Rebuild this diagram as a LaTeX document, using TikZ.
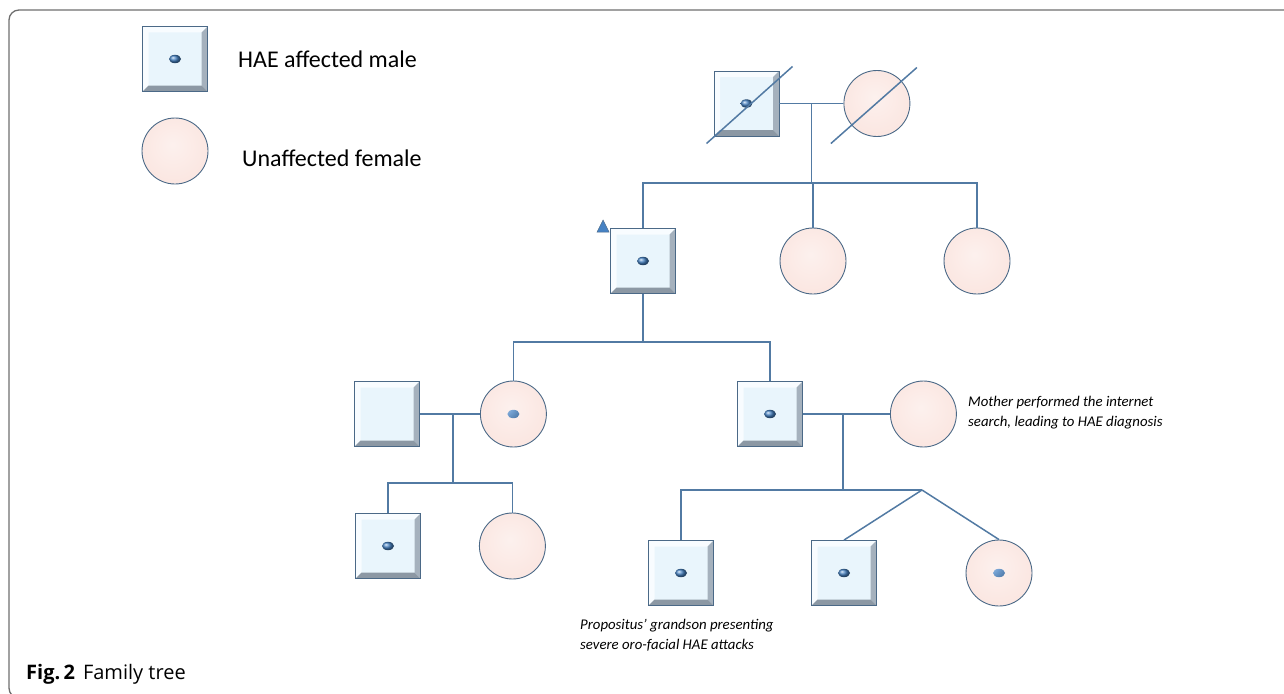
\documentclass[tikz,border=0pt]{standalone}
\usepackage{fontspec}
\setmainfont{Carlito}
\newfontfamily\capfont{Open Sans}
\usetikzlibrary{positioning, calc}

\definecolor{linkblue}{RGB}{82,122,163}
\definecolor{edgeblue}{RGB}{75,105,135}
\definecolor{malefill}{RGB}{233,245,252}
\definecolor{bevellight}{RGB}{248,252,255}
\definecolor{bevelside}{RGB}{165,177,189}
\definecolor{beveldark}{RGB}{140,152,164}
\definecolor{femalefill}{RGB}{251,231,226}
\definecolor{femalerim}{RGB}{195,180,180}
\definecolor{dotblue}{RGB}{70,130,195}
\definecolor{framegray}{RGB}{110,110,110}

\pgfdeclareradialshading{femaleshade}{\pgfpoint{-2bp}{5bp}}{color(0bp)=(femalefill!60!white); color(25bp)=(femalefill); color(41bp)=(femalefill); color(47bp)=(femalerim); color(53bp)=(femalerim!65!black)}

% bevel of the square symbols
\newcommand{\bevelsq}{%
  \fill[bevellight] (path picture bounding box.north west) -- (path picture bounding box.north east)
    -- ([shift={(-6pt,-6pt)}]path picture bounding box.north east)
    -- ([shift={(6pt,-6pt)}]path picture bounding box.north west)
    -- ([shift={(6pt,6pt)}]path picture bounding box.south west)
    -- (path picture bounding box.south west) -- cycle;
  \fill[bevelside] (path picture bounding box.south east) -- (path picture bounding box.north east)
    -- ([shift={(-6pt,-6pt)}]path picture bounding box.north east)
    -- ([shift={(-6pt,6pt)}]path picture bounding box.south east) -- cycle;
  \fill[beveldark] (path picture bounding box.south west) -- (path picture bounding box.south east)
    -- ([shift={(-6pt,6pt)}]path picture bounding box.south east)
    -- ([shift={(6pt,6pt)}]path picture bounding box.south west) -- cycle;}
% dot of the HAE carriers
\newcommand{\affdot}{%
  \shade[ball color=dotblue] (path picture bounding box.center) ellipse [x radius=6pt, y radius=4.2pt];}

\begin{document}
\begin{tikzpicture}[x=1pt, y=-1pt,
    node distance=60pt,
    male/.style={rectangle, draw=edgeblue, line width=0.9pt, fill=malefill, minimum size=65pt, inner sep=0pt, path picture={\bevelsq}},
    malehae/.style={male, path picture={\bevelsq\affdot}},
    female/.style={circle, draw=edgeblue, line width=0.9pt, shading=femaleshade, minimum size=66pt, inner sep=0pt},
    femalehae/.style={female, path picture={\affdot}},
    tie/.style={draw=linkblue, line width=1.5pt},
    legend/.style={font=\fontsize{24}{28}\selectfont, inner sep=0pt},
    note/.style={font=\fontsize{14.8}{20}\selectfont\itshape, align=left, inner sep=0pt}
]
\useasboundingbox (0,0) rectangle (1284,693);
\draw[framegray, line width=1.3pt, rounded corners=10pt] (1300,10) -- (9,10) -- (9,698) -- (40,698);

% legend
\node[malehae] (lm) at (175,59) {};
\node[legend, right=30pt of lm] (lmt) {HAE affected male};
\node[female] (lf) at (175,151) {};
\node[legend, anchor=west] (lft) at (242,158) {Unaffected female};

% generation I
\node[malehae] (gf) at (746.5,103.5) {};
\node[female, right=64pt of gf] (gm) {};
\draw[tie] ([shift={(-40,40)}]gf.center) -- ([shift={(46,-37)}]gf.center);
\draw[tie] ([shift={(-46,40)}]gm.center) -- ([shift={(40,-36)}]gm.center);

% generation II
\node[malehae] (p) at (643,261) {};
\node[female] (a1) at (813,261) {};
\node[female] (a2) at (977,261) {};
\filldraw[fill=dotblue, draw=edgeblue, line width=0.5pt] ([shift={(-13,4)}]p.north west) -- ([shift={(-1,4)}]p.north west) -- ([shift={(-7,-8)}]p.north west) -- cycle;

% generation III
\node[male] (dh) at (387,414) {};
\node[femalehae, right=60pt of dh] (d) {};
\node[malehae] (s) at (770,414) {};
\node[female, right=87pt of s] (w) {};
\node[note, anchor=west] (mnote) at (968,413) {Mother performed the internet\\search, leading to HAE diagnosis};

% generation IV
\node[malehae] (c1) at (388,546) {};
\node[female, right=58pt of c1] (c2) {};
\node[malehae] (c3) at (681,573) {};
\node[malehae] (c4) at (844,573) {};
\node[femalehae] (c5) at (999,573) {};
\node[note, anchor=north west] (gnote) at (580,619) {Propositus’ grandson presenting\\severe oro-facial HAE attacks};

% connectors
\coordinate (m1) at ($(gf)!0.5!(gm)$);
\coordinate (sib1) at (812,183);
\draw[tie] (gf) -- (gm);
\draw[tie] (m1) -- (m1 |- sib1);
\draw[tie] (p) |- (sib1) -| (a2);
\draw[tie] (a1) -- (a1 |- sib1);

\coordinate (sib2) at (641,342);
\draw[tie] (p) -- (p |- sib2);
\draw[tie] (d) |- (sib2) -| (s);

\coordinate (m2) at (453,414);
\coordinate (sib3) at (453,483);
\draw[tie] (dh) -- (d);
\draw[tie] (m2) -- (sib3);
\draw[tie] (c1) |- (sib3) -| (c2);

\coordinate (m3) at (843,414);
\coordinate (twin) at (922,490);
\draw[tie] (s) -- (w);
\draw[tie] (m3) -- (m3 |- twin);
\draw[tie] (c3) |- (twin);
\draw[tie] (twin) -- (c4.north);
\draw[tie] (twin) -- (c5.north);

% caption
\node[anchor=west, inner sep=0pt, font=\capfont\fontsize{20}{24}\selectfont] (cap) at (26,674) {\textbf{Fig.\,2}\hspace{8pt}Family tree};
\end{tikzpicture}
\end{document}
